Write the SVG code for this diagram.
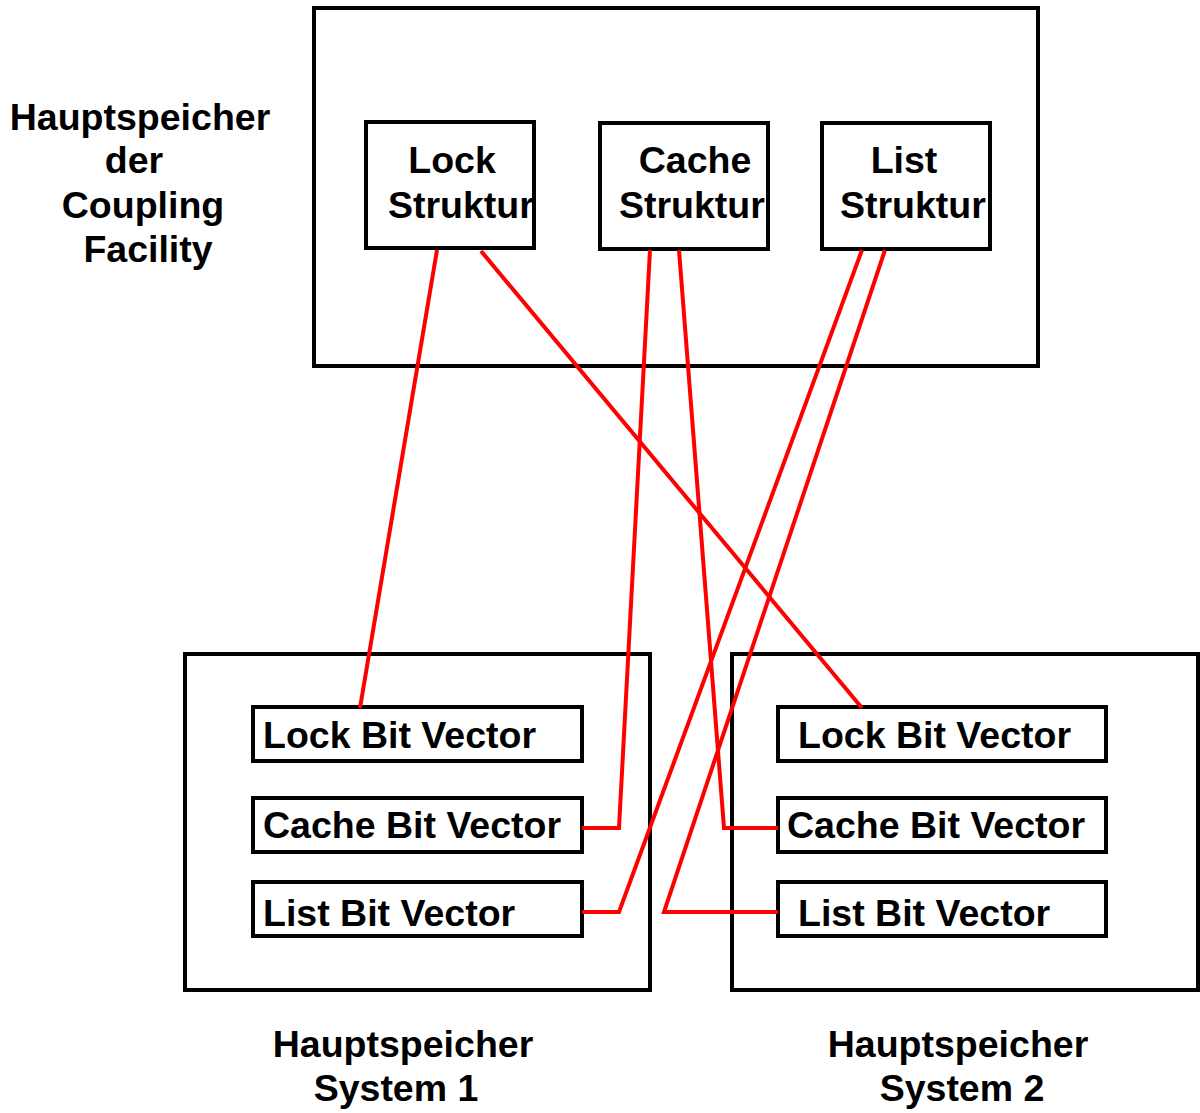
<svg xmlns="http://www.w3.org/2000/svg" width="1200" height="1113" viewBox="0 0 1200 1113">
<style>
.box{fill:none;stroke:#000;stroke-width:4}
.t{font-family:"Liberation Sans",Arial,sans-serif;font-weight:bold;font-size:37.5px;fill:#000}
.m{text-anchor:middle}
.c{fill:none;stroke:#ff0000;stroke-width:4;stroke-linejoin:miter}
</style>
<defs>
<clipPath id="clipLock"><rect x="366" y="122" width="168" height="126"/></clipPath>
<clipPath id="clipCache"><rect x="600" y="123" width="168" height="126"/></clipPath>
<clipPath id="clipList"><rect x="822" y="123" width="168" height="126"/></clipPath>
</defs>
<rect width="1200" height="1113" fill="#fff"/>
<g id="cf">
<rect class="box" x="314" y="8" width="724" height="358"/>
</g>
<g id="cf-label">
<text class="t m" x="140" y="130">Hauptspeicher</text>
<text class="t m" x="134" y="173">der</text>
<text class="t m" x="143" y="218">Coupling</text>
<text class="t m" x="148" y="262">Facility</text>
</g>
<g id="lock-struktur">
<g clip-path="url(#clipLock)">
<text class="t m" x="452" y="173">Lock</text>
<text class="t" x="388" y="218">Struktur</text>
</g>
<rect class="box" x="366" y="122" width="168" height="126"/>
</g>
<g id="cache-struktur">
<g clip-path="url(#clipCache)">
<text class="t m" x="695" y="173">Cache</text>
<text class="t" x="619" y="218">Struktur</text>
</g>
<rect class="box" x="600" y="123" width="168" height="126"/>
</g>
<g id="list-struktur">
<g clip-path="url(#clipList)">
<text class="t m" x="904" y="173">List</text>
<text class="t" x="840" y="218">Struktur</text>
</g>
<rect class="box" x="822" y="123" width="168" height="126"/>
</g>
<g id="system1">
<rect class="box" x="185" y="654" width="465" height="336"/>
<text class="t m" x="403" y="1057">Hauptspeicher</text>
<text class="t m" x="396" y="1101">System 1</text>
</g>
<g id="s1-lock">
<rect class="box" x="253" y="707" width="329" height="54"/>
<text class="t" x="263" y="748">Lock Bit Vector</text>
</g>
<g id="s1-cache">
<rect class="box" x="253" y="798" width="329" height="54"/>
<text class="t" x="263" y="838">Cache Bit Vector</text>
</g>
<g id="s1-list">
<rect class="box" x="253" y="882" width="329" height="54"/>
<text class="t" x="263" y="926">List Bit Vector</text>
</g>
<g id="system2">
<rect class="box" x="732" y="654" width="466" height="336"/>
<text class="t m" x="958" y="1057">Hauptspeicher</text>
<text class="t m" x="962" y="1101">System 2</text>
</g>
<g id="s2-lock">
<rect class="box" x="778" y="707" width="328" height="54"/>
<text class="t" x="798" y="748">Lock Bit Vector</text>
</g>
<g id="s2-cache">
<rect class="box" x="778" y="798" width="328" height="54"/>
<text class="t" x="787" y="838">Cache Bit Vector</text>
</g>
<g id="s2-list">
<rect class="box" x="778" y="882" width="328" height="54"/>
<text class="t" x="798" y="926">List Bit Vector</text>
</g>
<g id="connectors">
<path class="c" d="M437 250 L360 708"/>
<path class="c" d="M481 251 L862 708"/>
<path class="c" d="M650 250 L619 828 L582 828"/>
<path class="c" d="M679 250 L724 828 L778 828"/>
<path class="c" d="M862 250 L619 912 L582 912"/>
<path class="c" d="M885 250 L664 912 L778 912"/>
</g>
</svg>
